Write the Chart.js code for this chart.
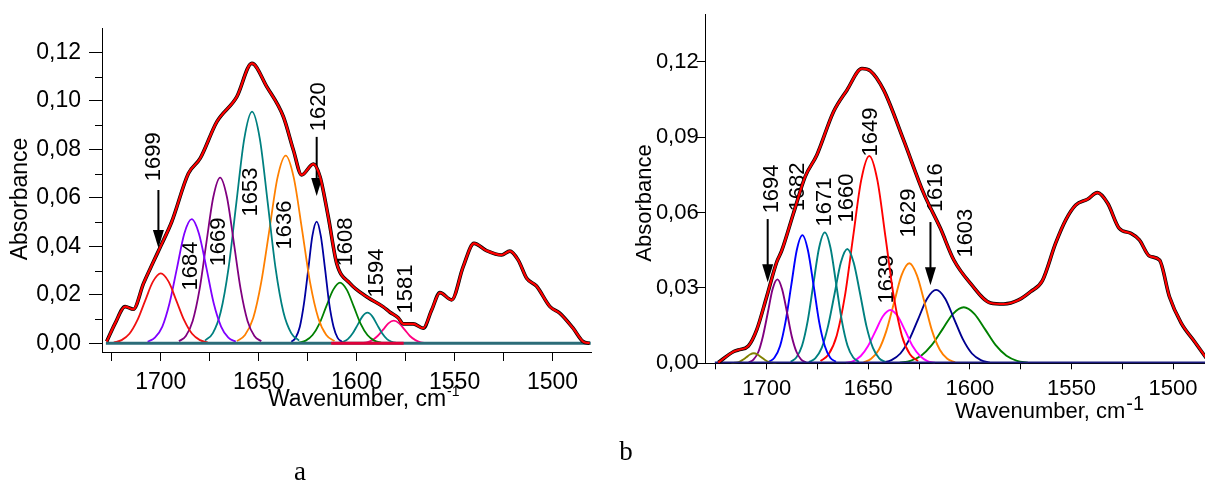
<!DOCTYPE html>
<html lang="en">
<head>
<meta charset="UTF-8">
<title>Amide I band deconvolution</title>
<script src="https://cdn.jsdelivr.net/npm/chart.js@4.4.0/dist/chart.umd.min.js"></script>
<style>
  body { margin: 0; background: #fff; }
  #wrap { position: relative; width: 1205px; height: 484px; }
  canvas { position: absolute; top: 0; }
</style>
</head>
<body>
<div id="wrap">
  <canvas id="chartA" width="600" height="484" style="left:0"></canvas>
  <canvas id="chartB" width="605" height="484" style="left:600px"></canvas>
</div>
<script>
// ---------- panel a ----------
var envWnA = [1727.6, 1723.3, 1718.2, 1714, 1708.8, 1703.7, 1700, 1694.4, 1685.9, 1679.9, 1671.4, 1661.2, 1653.5, 1645.9, 1637.4, 1632.3, 1628.1, 1622.1, 1618.7, 1614.5, 1610.2, 1603.4, 1594.9, 1586.4, 1583, 1578.8, 1576.2, 1571.1, 1566, 1561.7, 1557.5, 1551.5, 1545.6, 1540.1, 1533.7, 1526, 1521.8, 1517.5, 1513.2, 1508.2, 1501.3, 1496.3, 1489.5, 1484.4, 1481];
var envAbsA = [0.0007, 0.0082, 0.0151, 0.014, 0.0247, 0.0337, 0.0401, 0.0501, 0.070, 0.0762, 0.0913, 0.1016, 0.1154, 0.1058, 0.0934, 0.0797, 0.0694, 0.0739, 0.0687, 0.0522, 0.033, 0.0247, 0.0192, 0.015, 0.0128, 0.0105, 0.008, 0.008, 0.0062, 0.0137, 0.0209, 0.0179, 0.0316, 0.0412, 0.0382, 0.0364, 0.038, 0.0343, 0.0268, 0.0236, 0.0151, 0.0124, 0.0062, 0.0007, 0];

var peakNamesA = ['1699', '1684', '1669', '1653', '1636', '1620', '1608', '1594', '1581'];
var compColorsA = ['#f01010', '#8000ff', '#800080', '#008080', '#ff8000', '#0000a0', '#008000', '#008080', '#ff0080'];
var compWnA = [
  [1676, 1680, 1684, 1688, 1692, 1696, 1700, 1704, 1708, 1712, 1716, 1720, 1724],
  [1661.7, 1665.5, 1669.2, 1673, 1676.7, 1680.5, 1684.2, 1688, 1691.7, 1695.5, 1699.2, 1703, 1706.7],
  [1648.7, 1652.2, 1655.7, 1659.2, 1662.7, 1666.2, 1669.7, 1673.2, 1676.7, 1680.2, 1683.7, 1687.2, 1690.7],
  [1629.4, 1633.4, 1637.4, 1641.4, 1645.4, 1649.4, 1653.4, 1657.4, 1661.4, 1665.4, 1669.4, 1673.4, 1677.4],
  [1611.3, 1615.5, 1619.6, 1623.8, 1627.9, 1632.1, 1636.2, 1640.4, 1644.5, 1648.7, 1652.8, 1657, 1661.1],
  [1607.5, 1609.7, 1611.8, 1614, 1616.1, 1618.3, 1620.4, 1622.6, 1624.7, 1626.9, 1629, 1631.2, 1633.3],
  [1587.5, 1591, 1594.5, 1598, 1601.5, 1605, 1608.5, 1612, 1615.5, 1619, 1622.5, 1626, 1629.5],
  [1579.5, 1582, 1584.5, 1587, 1589.5, 1592, 1594.5, 1597, 1599.5, 1602, 1604.5, 1607, 1609.5],
  [1564.5, 1567.3, 1570, 1572.8, 1575.5, 1578.3, 1581, 1583.8, 1586.5, 1589.3, 1592, 1594.8, 1597.5]
];
var compAbsA = [
  [0.0003, 0.0013, 0.0039, 0.0094, 0.0175, 0.0254, 0.0288, 0.0254, 0.0175, 0.0094, 0.0039, 0.0013, 0.0003],
  [0.0006, 0.0023, 0.0069, 0.0166, 0.0311, 0.0452, 0.0512, 0.0452, 0.0311, 0.0166, 0.0069, 0.0023, 0.0006],
  [0.0008, 0.003, 0.0092, 0.0222, 0.0415, 0.0602, 0.0683, 0.0602, 0.0415, 0.0222, 0.0092, 0.003, 0.0008],
  [0.0011, 0.0042, 0.0129, 0.031, 0.058, 0.0842, 0.0955, 0.0842, 0.058, 0.031, 0.0129, 0.0042, 0.0011],
  [0.0009, 0.0034, 0.0104, 0.0252, 0.047, 0.0683, 0.0774, 0.0683, 0.047, 0.0252, 0.0104, 0.0034, 0.0009],
  [0.0006, 0.0022, 0.0068, 0.0163, 0.0305, 0.0443, 0.0502, 0.0443, 0.0305, 0.0163, 0.0068, 0.0022, 0.0006],
  [0.0003, 0.0011, 0.0034, 0.0081, 0.0152, 0.022, 0.025, 0.022, 0.0152, 0.0081, 0.0034, 0.0011, 0.0003],
  [0.0001, 0.0006, 0.0017, 0.0041, 0.0076, 0.0111, 0.0126, 0.0111, 0.0076, 0.0041, 0.0017, 0.0006, 0.0001],
  [0.0001, 0.0004, 0.0013, 0.003, 0.0056, 0.0082, 0.0093, 0.0082, 0.0056, 0.003, 0.0013, 0.0004, 0.0001]
];
var baseWnA = [1728, 1480.5];
var flatWnA = [1613, 1576];
var xTicksA = [1500, 1525, 1550, 1575, 1600, 1625, 1650, 1675, 1700, 1725];
var yTicksA = [0, 0.02, 0.04, 0.06, 0.08, 0.10, 0.12];
var yMinorA = [0.01, 0.03, 0.05, 0.07, 0.09, 0.11];
// label anchors (wavenumber, absorbance) and arrows (wavenumber, from, to)
var labelAtA = [[1703.4, 0.0769], [1684.5, 0.0319], [1670.3, 0.0418], [1653.9, 0.0624], [1636.6, 0.0488], [1619.2, 0.0975], [1605.5, 0.0418], [1589.7, 0.029], [1574.9, 0.0224]];
var arrowsA = [[1701.2, 0.0632, 0.0393], [1620.4, 0.0851, 0.0607]];

// ---------- panel b ----------
var envWnB = [1723.8, 1716.4, 1714, 1709, 1704.9, 1700, 1695, 1692.6, 1686.8, 1681.1, 1675.3, 1667.1, 1660.5, 1653.1, 1649, 1642.4, 1632.6, 1622.7, 1614.5, 1607.9, 1599.7, 1589.8, 1583.3, 1576, 1570.1, 1564.3, 1557.8, 1552.8, 1547.9, 1542.1, 1537.2, 1532.2, 1526.5, 1520.7, 1516.6, 1511.7, 1506.7, 1501.8, 1496, 1489.5, 1483.7];
var envAbsB = [0.0003, 0.0046, 0.0053, 0.0069, 0.0133, 0.0265, 0.0404, 0.0448, 0.0597, 0.0742, 0.0829, 0.1001, 0.1087, 0.1173, 0.1164, 0.1087, 0.0888, 0.0676, 0.0537, 0.0411, 0.0318, 0.024, 0.0236, 0.0252, 0.0285, 0.0329, 0.0478, 0.0571, 0.063, 0.0653, 0.0679, 0.0637, 0.0537, 0.0517, 0.0491, 0.0427, 0.0411, 0.0265, 0.016, 0.0087, 0.0021];

var peakNamesB = ['1694', '1682', '1671', '1660', '1649', '1639', '1629', '1616', '1603'];
var compColorsB = ['#808000', '#800080', '#0000ff', '#008080', '#008080', '#ff0000', '#ff00ff', '#ff8000', '#000090', '#008000'];
var compWnB = [
  [1695.2, 1697.1, 1698.9, 1700.8, 1702.6, 1704.5, 1706.3, 1708.2, 1710, 1711.9, 1713.7, 1715.6, 1717.4],
  [1680.6, 1683, 1685.3, 1687.7, 1690, 1692.4, 1694.7, 1697.1, 1699.4, 1701.8, 1704.1, 1706.5, 1708.8],
  [1665.9, 1668.7, 1671.4, 1674.2, 1676.9, 1679.7, 1682.4, 1685.2, 1687.9, 1690.7, 1693.4, 1696.2, 1698.9],
  [1654.6, 1657.4, 1660.2, 1663, 1665.8, 1668.6, 1671.4, 1674.2, 1677, 1679.8, 1682.6, 1685.4, 1688.2],
  [1641.4, 1644.6, 1647.7, 1650.9, 1654, 1657.2, 1660.3, 1663.5, 1666.6, 1669.8, 1672.9, 1676.1, 1679.2],
  [1625.5, 1629.5, 1633.5, 1637.5, 1641.5, 1645.5, 1649.5, 1653.5, 1657.5, 1661.5, 1665.5, 1669.5, 1673.5],
  [1617.2, 1620.9, 1624.5, 1628.2, 1631.8, 1635.5, 1639.1, 1642.8, 1646.4, 1650.1, 1653.7, 1657.4, 1661],
  [1607.3, 1611.1, 1614.8, 1618.6, 1622.3, 1626.1, 1629.8, 1633.6, 1637.3, 1641.1, 1644.8, 1648.6, 1652.3],
  [1590.2, 1594.6, 1599, 1603.4, 1607.8, 1612.2, 1616.6, 1621, 1625.4, 1629.8, 1634.2, 1638.6, 1643],
  [1571.5, 1576.8, 1582, 1587.3, 1592.5, 1597.8, 1603, 1608.3, 1613.5, 1618.8, 1624, 1629.3, 1634.5]
];
var compAbsB = [
  [0, 0.0002, 0.0005, 0.0013, 0.0024, 0.0035, 0.004, 0.0035, 0.0024, 0.0013, 0.0005, 0.0002, 0],
  [0.0004, 0.0015, 0.0045, 0.0109, 0.0203, 0.0295, 0.0334, 0.0295, 0.0203, 0.0109, 0.0045, 0.0015, 0.0004],
  [0.0006, 0.0022, 0.0069, 0.0166, 0.031, 0.045, 0.051, 0.045, 0.031, 0.0166, 0.0069, 0.0022, 0.0006],
  [0.0006, 0.0023, 0.007, 0.0169, 0.0316, 0.046, 0.0521, 0.046, 0.0316, 0.0169, 0.007, 0.0023, 0.0006],
  [0.0005, 0.002, 0.0061, 0.0148, 0.0276, 0.0401, 0.0455, 0.0401, 0.0276, 0.0148, 0.0061, 0.002, 0.0005],
  [0.0009, 0.0036, 0.0111, 0.0268, 0.0501, 0.0728, 0.0825, 0.0728, 0.0501, 0.0268, 0.0111, 0.0036, 0.0009],
  [0.0002, 0.0009, 0.0029, 0.0069, 0.0129, 0.0187, 0.0212, 0.0187, 0.0129, 0.0069, 0.0029, 0.0009, 0.0002],
  [0.0004, 0.0018, 0.0054, 0.0129, 0.0242, 0.0351, 0.0398, 0.0351, 0.0242, 0.0129, 0.0054, 0.0018, 0.0004],
  [0.0003, 0.0013, 0.0039, 0.0095, 0.0177, 0.0258, 0.0292, 0.0258, 0.0177, 0.0095, 0.0039, 0.0013, 0.0003],
  [0.0002, 0.001, 0.003, 0.0072, 0.0135, 0.0197, 0.0223, 0.0197, 0.0135, 0.0072, 0.003, 0.001, 0.0002]
];
var baseWnB = [1725.5, 1484.3];
var xTicksB = [1500, 1525, 1550, 1575, 1600, 1625, 1650, 1675, 1700, 1725];
var yTicksB = [0, 0.03, 0.06, 0.09, 0.12];
var labelAtB = [[1697.5, 0.0694], [1684.6, 0.0702], [1671.3, 0.0642], [1660.4, 0.0658], [1648.6, 0.092], [1640.9, 0.0335], [1630.1, 0.0598], [1616.5, 0.0699], [1601.7, 0.0518]];
var arrowsB = [[1699.5, 0.0574, 0.0323], [1619.4, 0.0562, 0.0311]];

var SANS = '"Liberation Sans", Arial, sans-serif';
Chart.defaults.font.family = SANS;
Chart.defaults.color = '#000';

function pts(wn, abs) {
  return wn.map(function (w, i) { return { x: w, y: abs[i] }; });
}
function zeros(wn) {
  return wn.map(function () { return 0; });
}
function line(data, color, width) {
  return {
    data: data, borderColor: color, borderWidth: width,
    pointRadius: 0, fill: false, cubicInterpolationMode: 'monotone'
  };
}

// peak labels, arrows, minor ticks and axis titles
function makeNotes(cfg) {
  return {
    id: 'notes',
    beforeDatasetsDraw: function (chart) {
      var ctx = chart.ctx, xs = chart.scales.x, ys = chart.scales.y;
      ctx.save();
      ctx.fillStyle = '#000';
      ctx.strokeStyle = '#000';
      ctx.font = cfg.labelFont;
      ctx.textAlign = 'center';
      ctx.textBaseline = 'middle';
      cfg.names.forEach(function (name, i) {
        ctx.save();
        ctx.translate(xs.getPixelForValue(cfg.places[i][0]), ys.getPixelForValue(cfg.places[i][1]));
        ctx.rotate(-Math.PI / 2);
        ctx.fillText(name, 0, 0);
        ctx.restore();
      });
      ctx.lineWidth = 2;
      cfg.arrows.forEach(function (a) {
        var x = xs.getPixelForValue(a[0]);
        var y1 = ys.getPixelForValue(a[1]), y2 = ys.getPixelForValue(a[2]);
        ctx.beginPath();
        ctx.moveTo(x, y1);
        ctx.lineTo(x, y2 - 12);
        ctx.stroke();
        ctx.beginPath();
        ctx.moveTo(x - 5.5, y2 - 18);
        ctx.lineTo(x + 5.5, y2 - 18);
        ctx.lineTo(x, y2);
        ctx.closePath();
        ctx.fill();
      });
      ctx.restore();
    },
    afterDraw: function (chart) {
      var ctx = chart.ctx, ys = chart.scales.y, left = chart.chartArea.left;
      ctx.save();
      ctx.strokeStyle = '#000';
      ctx.lineWidth = 1;
      (cfg.minor || []).forEach(function (v) {
        var y = Math.round(ys.getPixelForValue(v)) + 0.5;
        ctx.beginPath();
        ctx.moveTo(left - 7, y);
        ctx.lineTo(left, y);
        ctx.stroke();
      });
      ctx.fillStyle = '#000';
      ctx.font = cfg.titleFont;
      ctx.save();
      ctx.translate(cfg.yTitle[0], cfg.yTitle[1]);
      ctx.rotate(-Math.PI / 2);
      ctx.textAlign = 'center';
      ctx.textBaseline = 'middle';
      ctx.fillText('Absorbance', 0, 0);
      ctx.restore();
      ctx.textAlign = 'left';
      ctx.textBaseline = 'alphabetic';
      var main = 'Wavenumber, cm';
      ctx.fillText(main, cfg.xTitle[0], cfg.xTitle[1]);
      var w = ctx.measureText(main).width;
      ctx.font = cfg.supFont;
      ctx.fillText('-1', cfg.xTitle[0] + w + 1, cfg.xTitle[1] - cfg.supRise);
      ctx.font = '27px "Liberation Serif", "Times New Roman", serif';
      ctx.textAlign = 'center';
      ctx.fillText(cfg.letter, cfg.letterAt[0], cfg.letterAt[1]);
      ctx.restore();
    }
  };
}

function axes(xMin, xMax, xTicks, yMin, yMax, yTicks, yWidth, xHeight, yTickLen, yPad, xTickLen, xPad, fontSize) {
  return {
    x: {
      type: 'linear', reverse: true, min: xMin, max: xMax,
      afterBuildTicks: function (s) { s.ticks = xTicks.map(function (v) { return { value: v }; }); },
      afterFit: function (s) { s.height = xHeight; },
      grid: { display: true, drawOnChartArea: false, drawTicks: true, tickLength: xTickLen, tickColor: '#000' },
      border: { display: true, color: '#000', width: 1 },
      ticks: {
        autoSkip: false, maxRotation: 0, minRotation: 0, padding: xPad,
        font: { size: fontSize },
        callback: function (v) { return v % 50 === 0 ? String(v) : ''; }
      }
    },
    y: {
      type: 'linear', min: yMin, max: yMax,
      afterBuildTicks: function (s) { s.ticks = yTicks.map(function (v) { return { value: v }; }); },
      afterFit: function (s) { s.width = yWidth; },
      grid: { display: true, drawOnChartArea: false, drawTicks: true, tickLength: yTickLen, tickColor: '#000' },
      border: { display: true, color: '#000', width: 1 },
      ticks: {
        padding: yPad, font: { size: fontSize },
        callback: function (v) { return v.toFixed(2).replace('.', ','); }
      }
    }
  };
}

// panel a
var dsA = [
  line(pts(envWnA, envAbsA), '#ff0000', 2.2),
  line(pts(envWnA, envAbsA), '#000000', 3.6),
  line(pts(flatWnA, zeros(flatWnA)), '#e0003a', 3),
  line(pts(baseWnA, zeros(baseWnA)), '#2b6c78', 3)
];
compWnA.forEach(function (wn, i) {
  dsA.push(line(pts(wn, compAbsA[i]), compColorsA[i], 1.8));
});

new Chart(document.getElementById('chartA'), {
  type: 'line',
  data: { datasets: dsA },
  options: {
    responsive: false, animation: false, devicePixelRatio: 1,
    layout: { padding: { left: 0, right: 8.3, top: 28, bottom: 72 } },
    plugins: { legend: { display: false }, tooltip: { enabled: false } },
    scales: axes(1480, 1730, xTicksA, -0.0036, 0.13, yTicksA, 102, 60, 13, 8, 9, 8, 23)
  },
  plugins: [makeNotes({
    names: peakNamesA, places: labelAtA, arrows: arrowsA, minor: yMinorA,
    labelFont: '22px ' + SANS, titleFont: '23px ' + SANS, supFont: '14px ' + SANS, supRise: 10,
    yTitle: [21, 199], xTitle: [268, 406], letter: 'a', letterAt: [300, 480]
  })]
});

// panel b
var dsB = [
  line(pts(envWnB, envAbsB), '#ff0000', 2.2),
  line(pts(envWnB, envAbsB), '#000000', 3.6),
  line(pts(baseWnB, zeros(baseWnB)), '#1c1c80', 3.5)
];
compWnB.forEach(function (wn, i) {
  dsB.push(line(pts(wn, compAbsB[i]), compColorsB[i], 1.9));
});

new Chart(document.getElementById('chartB'), {
  type: 'line',
  data: { datasets: dsB },
  options: {
    responsive: false, animation: false, devicePixelRatio: 1,
    layout: { padding: { left: 0, right: 0, top: 14, bottom: 60.7 } },
    plugins: { legend: { display: false }, tooltip: { enabled: false } },
    scales: axes(1484.3, 1730, xTicksB, 0, 0.139, yTicksB, 105.7, 60, 9, -2, 6, 6, 22)
  },
  plugins: [makeNotes({
    names: peakNamesB, places: labelAtB, arrows: arrowsB,
    labelFont: '22px ' + SANS, titleFont: '22px ' + SANS, supFont: '20px ' + SANS, supRise: 8,
    yTitle: [45, 203], xTitle: [355, 418], letter: 'b', letterAt: [26, 460]
  })]
});
</script>
</body>
</html>
